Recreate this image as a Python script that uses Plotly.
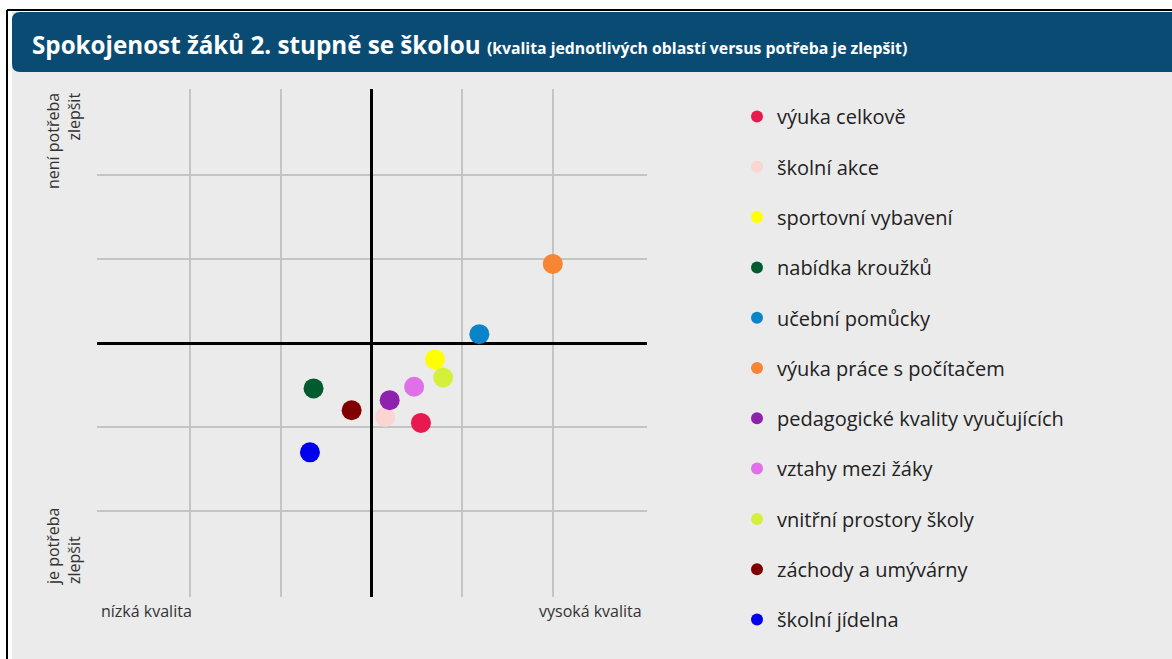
import plotly.graph_objects as go

# Data
categories = ["výuka celkově", "školní akce", "sportovní vybavení", "nabídka kroužků",
              "učební pomůcky", "výuka práce s počítačem", "pedagogické kvality vyučujících",
              "vztahy mezi žáky", "vnitřní prostory školy", "záchody a umývárny", "školní jídelna"]
quality = [0.545, 0.15, 0.70, -0.64, 1.19, 2.00, 0.20, 0.47, 0.79, -0.22, -0.68]
no_need = [-0.95, -0.88, -0.195, -0.54, 0.105, 0.94, -0.68, -0.52, -0.41, -0.80, -1.30]
colors = ["#e8194f", "#fbd5d2", "#ffff00", "#005c2e", "#0a84c9", "#f68634",
          "#8e22ad", "#e070e8", "#d4f03a", "#800000", "#0000ee"]

W, H = 1172, 659
FONT = "Open Sans"

fig = go.Figure()
for i, (c, xv, yv, col) in enumerate(zip(categories, quality, no_need, colors)):
    fig.add_trace(go.Scatter(x=[xv], y=[yv], mode="markers", name=c, legendgroup=f"g{i}",
                             marker=dict(size=20, color=col, line=dict(width=0)),
                             hovertemplate=c + "<extra></extra>"))

def px(x):
    return x / W

def py(y):
    return 1 - y / H

shapes = [
    # gray background
    dict(type="rect", xref="paper", yref="paper", x0=px(12), x1=1.0, y0=0, y1=py(12),
         fillcolor="#ebebeb", line=dict(width=0), layer="below"),
    # header bar with rounded left corners
    dict(type="path", xref="paper", yref="paper",
         path=f"M {px(20)},{py(12)} L 1,{py(12)} L 1,{py(72)} L {px(20)},{py(72)} "
              f"Q {px(12)},{py(72)} {px(12)},{py(64)} L {px(12)},{py(20)} Q {px(12)},{py(12)} {px(20)},{py(12)} Z",
         fillcolor="#094b73", line=dict(width=0), layer="below"),
    # black frame lines
    dict(type="line", xref="paper", yref="paper", x0=px(7), x1=px(7), y0=0, y1=py(10),
         line=dict(color="#000000", width=2)),
    dict(type="line", xref="paper", yref="paper", x0=px(7), x1=1, y0=py(10), y1=py(10),
         line=dict(color="#000000", width=2)),
]

annotations = [
    dict(xref="paper", yref="paper", x=px(30), y=py(44), xanchor="left", yanchor="middle",
         text="<b>Spokojenost žáků 2. stupně se školou</b> "
              "<b><span style='font-size:15.8px'>(kvalita jednotlivých oblastí versus potřeba je zlepšit)</span></b>",
         showarrow=False, font=dict(family=FONT, size=24.2, color="white")),
    dict(xref="paper", yref="paper", x=px(63), y=py(91), xanchor="center", yanchor="top",
         text="není potřeba<br>zlepšit", textangle=-90, showarrow=False, align="right",
         font=dict(family=FONT, size=16, color="#333333")),
    dict(xref="paper", yref="paper", x=px(63), y=py(587), xanchor="center", yanchor="bottom",
         text="je potřeba<br>zlepšit", textangle=-90, showarrow=False, align="left",
         font=dict(family=FONT, size=16, color="#333333")),
    dict(xref="paper", yref="paper", x=px(99), y=py(611), xanchor="left", yanchor="middle",
         text="nízká kvalita", showarrow=False, font=dict(family=FONT, size=16, color="#333333")),
    dict(xref="paper", yref="paper", x=px(644), y=py(611), xanchor="right", yanchor="middle",
         text="vysoká kvalita", showarrow=False, font=dict(family=FONT, size=16, color="#333333")),
]

fig.update_layout(
    width=W, height=H,
    margin=dict(l=0, r=0, t=0, b=0),
    paper_bgcolor="white", plot_bgcolor="white",
    font=dict(family=FONT, color="#222222"),
    shapes=shapes, annotations=annotations,
    xaxis=dict(domain=[px(97), px(647)], range=[-3.03, 3.04], tickvals=[-2, -1, 0, 1, 2],
               showticklabels=False, showgrid=True, gridcolor="#c4c4c4", gridwidth=2,
               zeroline=True, zerolinecolor="#000000", zerolinewidth=3, showline=False,
               fixedrange=True),
    yaxis=dict(domain=[py(597), py(89)], range=[-3.02, 3.02], tickvals=[-2, -1, 0, 1, 2],
               showticklabels=False, showgrid=True, gridcolor="#c4c4c4", gridwidth=2,
               zeroline=True, zerolinecolor="#000000", zerolinewidth=3, showline=False,
               fixedrange=True),
    showlegend=True,
    legend=dict(x=px(737), y=py(97), xanchor="left", yanchor="top",
                bgcolor="rgba(0,0,0,0)", font=dict(family=FONT, size=20, color="#222222"),
                itemsizing="constant", tracegroupgap=21.3),
)

fig.write_html("out.html", config={"displayModeBar": False},
               post_script="document.body.style.margin='0';")
